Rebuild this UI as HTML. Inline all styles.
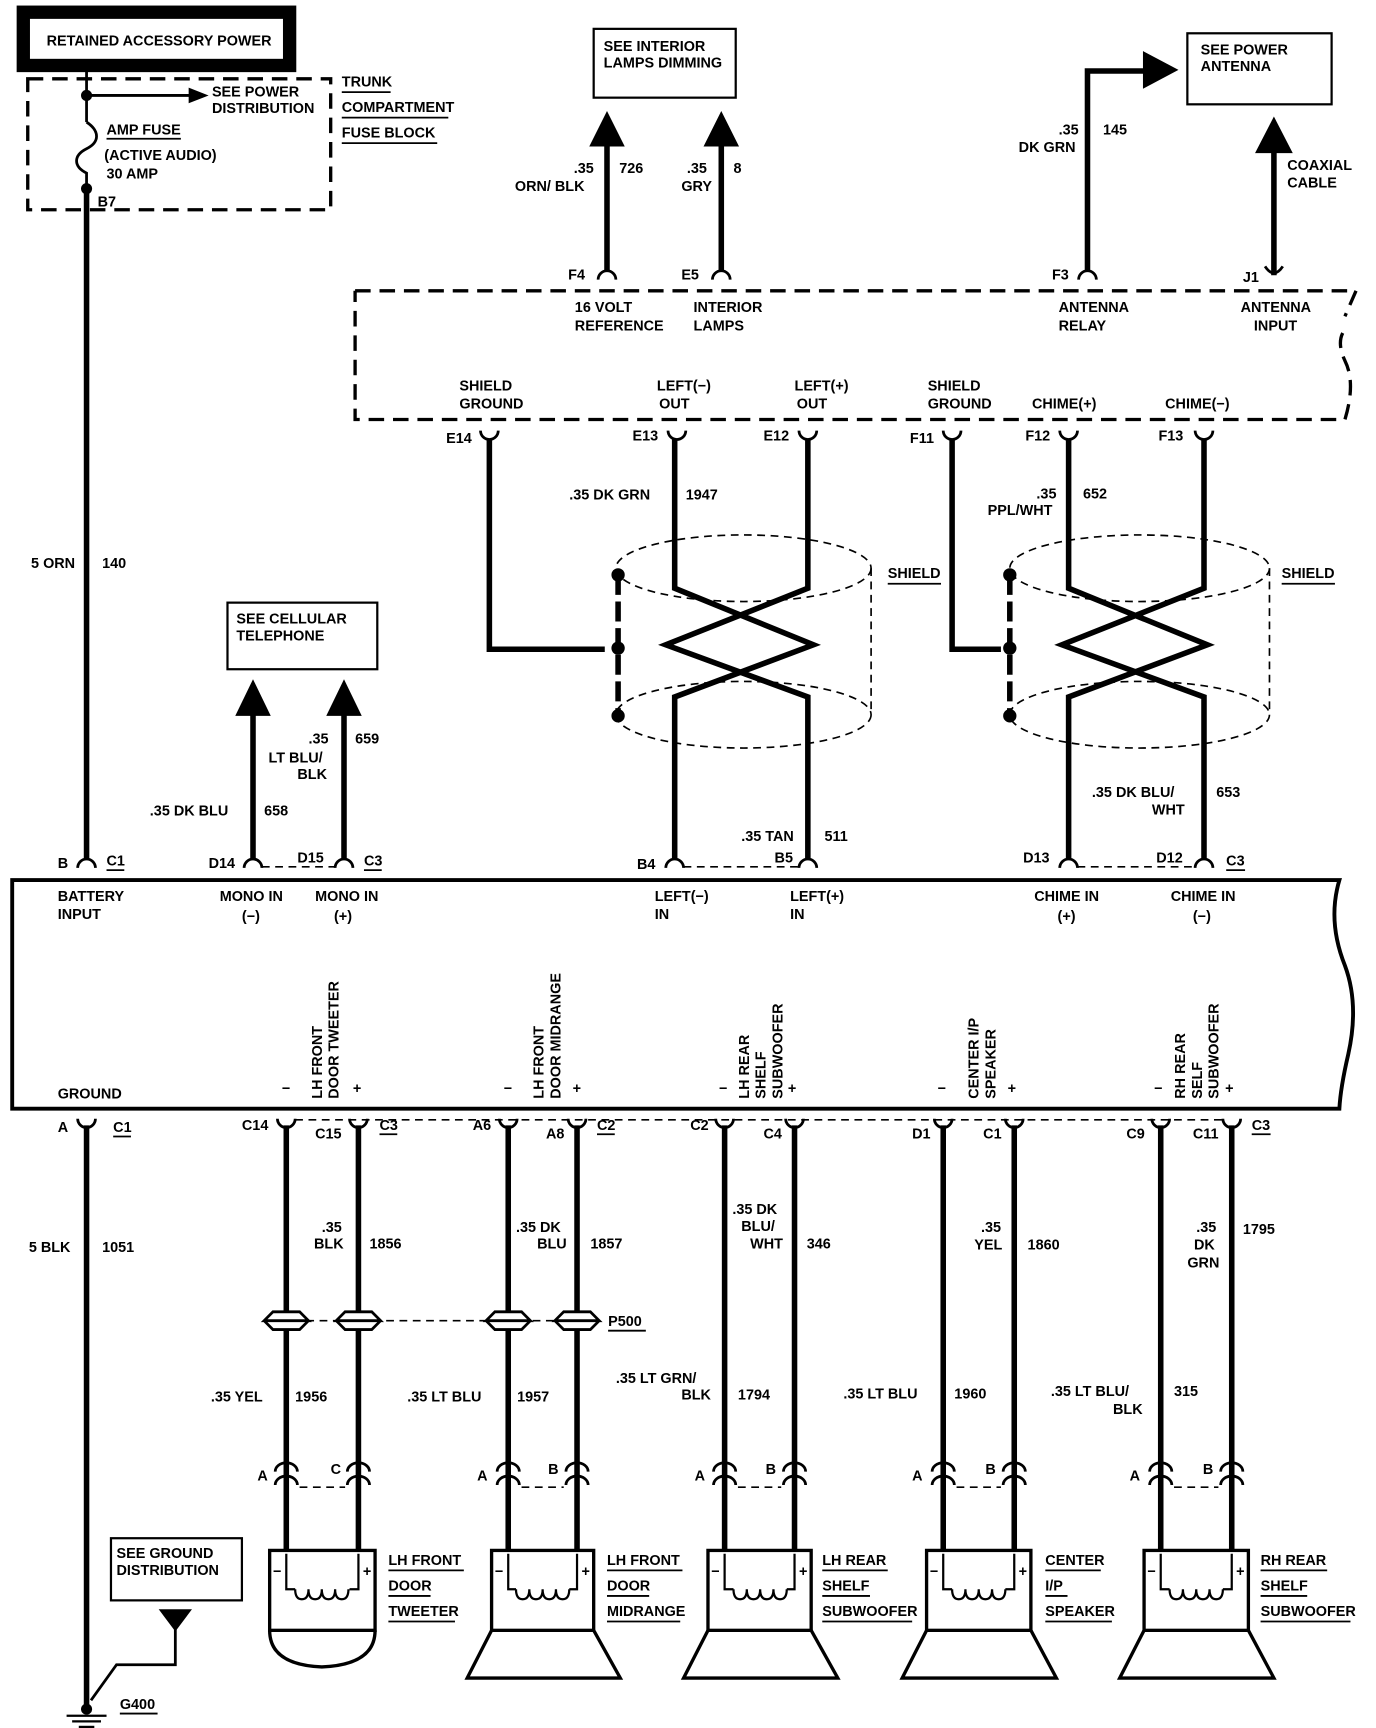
<!DOCTYPE html>
<html><head><meta charset="utf-8"><style>
html,body{margin:0;padding:0;background:#fff;}
svg{display:block;}
text{font-family:"Liberation Sans",sans-serif;font-weight:bold;font-size:13px;fill:#000;}
.w{stroke:#000;stroke-width:5;fill:none;}
.t{stroke:#000;stroke-width:2.5;fill:none;}
.d{stroke:#000;stroke-width:3;fill:none;stroke-dasharray:14 8;}
.ds{stroke:#000;stroke-width:1.5;fill:none;stroke-dasharray:7 5;}
.u{stroke:#000;stroke-width:1.6;}
</style></head><body>
<svg width="1376" height="1728" viewBox="0 0 1240 1557" preserveAspectRatio="none" xmlns="http://www.w3.org/2000/svg">
<rect x="0" y="0" width="1240" height="1557" fill="#fff"/>
<rect x="21" y="11" width="240" height="48" fill="none" stroke="#000" stroke-width="12"/>
<text x="42" y="41">RETAINED ACCESSORY POWER</text>
<rect x="25" y="71" width="273" height="118" class="d"/>
<line x1="78" y1="62" x2="78" y2="110" class="t"/>
<path d="M78 110 C90 118 90 128 78 134 C66 140 66 150 78 156 L78 170" class="t"/>
<circle cx="78" cy="86" r="5"/><circle cx="78" cy="170" r="5"/>
<line x1="78" y1="86" x2="172" y2="86" class="t"/>
<polygon points="170,79 188,86 170,93"/>
<text x="191" y="87">SEE POWER</text><text x="191" y="102">DISTRIBUTION</text>
<text x="96" y="121">AMP FUSE</text><line x1="96" y1="125" x2="163" y2="125" class="u"/>
<text x="94" y="144">(ACTIVE AUDIO)</text><text x="96" y="161">30 AMP</text>
<text x="88" y="186">B7</text>
<text x="308" y="78">TRUNK</text><line x1="308" y1="83" x2="352" y2="83" class="u"/>
<text x="308" y="101">COMPARTMENT</text><line x1="308" y1="106" x2="404" y2="106" class="u"/>
<text x="308" y="124">FUSE BLOCK</text><line x1="308" y1="129" x2="394" y2="129" class="u"/>
<line x1="78" y1="170" x2="78" y2="774" class="w"/>
<text x="28" y="512">5 ORN</text><text x="92" y="512">140</text>
<rect x="535" y="26" width="128" height="62" fill="none" stroke="#000" stroke-width="2"/>
<text x="544" y="46">SEE INTERIOR</text><text x="544" y="61">LAMPS DIMMING</text>
<line x1="547" y1="125" x2="547" y2="244" class="w"/><polygon points="531,132 547,100 563,132"/>
<line x1="650" y1="125" x2="650" y2="244" class="w"/><polygon points="634,132 650,100 666,132"/>
<text x="517" y="156">.35</text><text x="464" y="172">ORN/ BLK</text><text x="558" y="156">726</text>
<text x="619" y="156">.35</text><text x="614" y="172">GRY</text><text x="661" y="156">8</text>
<path d="M539 252 A8 8 0 0 1 555 252" class="t"/><path d="M642 252 A8 8 0 0 1 658 252" class="t"/>
<text x="512" y="252">F4</text><text x="614" y="252">E5</text>
<rect x="1070" y="30" width="130" height="64" fill="none" stroke="#000" stroke-width="2"/>
<text x="1082" y="49">SEE POWER</text><text x="1082" y="64">ANTENNA</text>
<path d="M980 244 V64 H1035" class="w"/><polygon points="1030,46 1062,63 1030,80"/>
<text x="954" y="121">.35</text><text x="918" y="137">DK GRN</text><text x="994" y="121">145</text>
<path d="M972 252 A8 8 0 0 1 988 252" class="t"/><text x="948" y="252">F3</text>
<line x1="1148" y1="130" x2="1148" y2="248" class="w"/><polygon points="1131,138 1148,105 1165,138"/>
<path d="M1140 240 Q1148 252 1156 240" class="t"/><text x="1120" y="254">J1</text>
<text x="1160" y="153">COAXIAL</text><text x="1160" y="169">CABLE</text>
<path d="M320 262 H1222 L1212 285" class="d"/>
<path d="M1210 300 Q1205 310 1212 325 Q1222 345 1212 378 H320 V262" class="d"/>
<text x="518" y="281">16 VOLT</text><text x="518" y="298">REFERENCE</text>
<text x="625" y="281">INTERIOR</text><text x="625" y="298">LAMPS</text>
<text x="954" y="281">ANTENNA</text><text x="954" y="298">RELAY</text>
<text x="1118" y="281">ANTENNA</text><text x="1130" y="298">INPUT</text>
<text x="414" y="352">SHIELD</text><text x="414" y="368">GROUND</text>
<text x="592" y="352">LEFT(−)</text><text x="594" y="368">OUT</text>
<text x="716" y="352">LEFT(+)</text><text x="718" y="368">OUT</text>
<text x="836" y="352">SHIELD</text><text x="836" y="368">GROUND</text>
<text x="930" y="368">CHIME(+)</text><text x="1050" y="368">CHIME(−)</text>
<g class="t">
<path d="M433 388 A8 8 0 0 0 449 388"/><path d="M602 388 A8 8 0 0 0 618 388"/><path d="M720 388 A8 8 0 0 0 736 388"/>
<path d="M850 388 A8 8 0 0 0 866 388"/><path d="M955 388 A8 8 0 0 0 971 388"/><path d="M1077 388 A8 8 0 0 0 1093 388"/>
</g>
<text x="402" y="399">E14</text><text x="570" y="397">E13</text><text x="688" y="397">E12</text>
<text x="820" y="399">F11</text><text x="924" y="397">F12</text><text x="1044" y="397">F13</text>
<path d="M441 396 V585 H545" class="w"/>
<path d="M608 396 V530 L733 581 L608 628 V774" class="w"/>
<path d="M728 396 V530 L600 581 L728 628 V774" class="w"/>
<ellipse cx="670" cy="512" rx="115" ry="30" class="ds"/>
<ellipse cx="670" cy="644" rx="115" ry="30" class="ds"/>
<line x1="785" y1="512" x2="785" y2="644" class="ds"/>
<line x1="557" y1="518" x2="557" y2="642" stroke="#000" stroke-width="5" stroke-dasharray="18 6"/>
<circle cx="557" cy="518" r="6"/><circle cx="557" cy="584" r="6"/><circle cx="557" cy="645" r="6"/>
<text x="800" y="521">SHIELD</text><line x1="800" y1="526" x2="848" y2="526" class="u"/>
<text x="513" y="450">.35 DK GRN</text><text x="618" y="450">1947</text>
<text x="668" y="758">.35 TAN</text><text x="743" y="758">511</text>
<path d="M858 396 V585 H902" class="w"/>
<path d="M963 396 V530 L1088 581 L963 628 V774" class="w"/>
<path d="M1085 396 V530 L957 581 L1085 628 V774" class="w"/>
<ellipse cx="1027" cy="512" rx="117" ry="30" class="ds"/>
<ellipse cx="1027" cy="644" rx="117" ry="30" class="ds"/>
<line x1="1144" y1="512" x2="1144" y2="644" class="ds"/>
<line x1="910" y1="518" x2="910" y2="642" stroke="#000" stroke-width="5" stroke-dasharray="18 6"/>
<circle cx="910" cy="518" r="6"/><circle cx="910" cy="584" r="6"/><circle cx="910" cy="645" r="6"/>
<text x="1155" y="521">SHIELD</text><line x1="1155" y1="526" x2="1203" y2="526" class="u"/>
<text x="934" y="449">.35</text><text x="890" y="464">PPL/WHT</text><text x="976" y="449">652</text>
<text x="984" y="718">.35 DK BLU/</text><text x="1038" y="734">WHT</text><text x="1096" y="718">653</text>
<rect x="205" y="543" width="135" height="60" fill="none" stroke="#000" stroke-width="2"/>
<text x="213" y="562">SEE CELLULAR</text><text x="213" y="577">TELEPHONE</text>
<line x1="228" y1="640" x2="228" y2="774" class="w"/><polygon points="212,645 228,612 244,645"/>
<line x1="310" y1="640" x2="310" y2="774" class="w"/><polygon points="294,645 310,612 326,645"/>
<text x="135" y="735">.35 DK BLU</text><text x="238" y="735">658</text>
<text x="278" y="670">.35</text><text x="242" y="687">LT BLU/</text><text x="268" y="702">BLK</text><text x="320" y="670">659</text>
<g class="t">
<path d="M70 782 A8 8 0 0 1 86 782"/><path d="M220 782 A8 8 0 0 1 236 782"/><path d="M302 782 A8 8 0 0 1 318 782"/>
<path d="M600 782 A8 8 0 0 1 616 782"/><path d="M720 782 A8 8 0 0 1 736 782"/>
<path d="M955 782 A8 8 0 0 1 971 782"/><path d="M1077 782 A8 8 0 0 1 1093 782"/>
</g>
<line x1="236" y1="781" x2="302" y2="781" class="ds"/>
<line x1="616" y1="781" x2="720" y2="781" class="ds"/>
<line x1="971" y1="781" x2="1077" y2="781" class="ds"/>
<text x="52" y="782">B</text><text x="96" y="780">C1</text><line x1="96" y1="784" x2="112" y2="784" class="u"/>
<text x="188" y="782">D14</text><text x="268" y="777">D15</text><text x="328" y="780">C3</text><line x1="328" y1="784" x2="344" y2="784" class="u"/>
<text x="574" y="783">B4</text><text x="698" y="777">B5</text>
<text x="922" y="777">D13</text><text x="1042" y="777">D12</text><text x="1105" y="780">C3</text><line x1="1105" y1="784" x2="1122" y2="784" class="u"/>
<path d="M11 793 H1207 Q1196 830 1212 870 Q1225 905 1215 950 Q1208 980 1207 999 H11 Z" fill="none" stroke="#000" stroke-width="3.5"/>
<text x="52" y="812">BATTERY</text><text x="52" y="828">INPUT</text>
<text x="198" y="812">MONO IN</text><text x="218" y="830">(−)</text>
<text x="284" y="812">MONO IN</text><text x="301" y="830">(+)</text>
<text x="590" y="812">LEFT(−)</text><text x="590" y="828">IN</text>
<text x="712" y="812">LEFT(+)</text><text x="712" y="828">IN</text>
<text x="932" y="812">CHIME IN</text><text x="953" y="830">(+)</text>
<text x="1055" y="812">CHIME IN</text><text x="1075" y="830">(−)</text>
<text x="52" y="990">GROUND</text>
<g font-size="12">
<text transform="translate(290,990) rotate(-90)">LH FRONT</text><text transform="translate(305,990) rotate(-90)">DOOR TWEETER</text>
<text transform="translate(490,990) rotate(-90)">LH FRONT</text><text transform="translate(505,990) rotate(-90)">DOOR MIDRANGE</text>
<text transform="translate(675,990) rotate(-90)">LH REAR</text><text transform="translate(690,990) rotate(-90)">SHELF</text><text transform="translate(705,990) rotate(-90)">SUBWOOFER</text>
<text transform="translate(882,990) rotate(-90)">CENTER I/P</text><text transform="translate(897,990) rotate(-90)">SPEAKER</text>
<text transform="translate(1068,990) rotate(-90)">RH REAR</text><text transform="translate(1083,990) rotate(-90)">SELF</text><text transform="translate(1098,990) rotate(-90)">SUBWOOFER</text>
</g>
<text x="254" y="985">−</text><text x="318" y="985">+</text>
<text x="454" y="985">−</text><text x="516" y="985">+</text>
<text x="648" y="985">−</text><text x="710" y="985">+</text>
<text x="845" y="985">−</text><text x="908" y="985">+</text>
<text x="1040" y="985">−</text><text x="1104" y="985">+</text>
<g class="t">
<path d="M70 1008 A8 8 0 0 0 86 1008"/>
<path d="M250 1008 A8 8 0 0 0 266 1008"/><path d="M315 1008 A8 8 0 0 0 331 1008"/>
<path d="M450 1008 A8 8 0 0 0 466 1008"/><path d="M512 1008 A8 8 0 0 0 528 1008"/>
<path d="M645 1008 A8 8 0 0 0 661 1008"/><path d="M708 1008 A8 8 0 0 0 724 1008"/>
<path d="M842 1008 A8 8 0 0 0 858 1008"/><path d="M906 1008 A8 8 0 0 0 922 1008"/>
<path d="M1038 1008 A8 8 0 0 0 1054 1008"/><path d="M1102 1008 A8 8 0 0 0 1118 1008"/>
</g>
<line x1="266" y1="1009" x2="1102" y2="1009" class="ds"/>
<text x="52" y="1020">A</text><text x="102" y="1020">C1</text><line x1="102" y1="1024" x2="118" y2="1024" class="u"/>
<text x="218" y="1018">C14</text><text x="284" y="1026">C15</text><text x="342" y="1018">C3</text><line x1="342" y1="1022" x2="358" y2="1022" class="u"/>
<text x="426" y="1018">A6</text><text x="492" y="1026">A8</text><text x="538" y="1018">C2</text><line x1="538" y1="1022" x2="554" y2="1022" class="u"/>
<text x="622" y="1018">C2</text><text x="688" y="1026">C4</text>
<text x="822" y="1026">D1</text><text x="886" y="1026">C1</text>
<text x="1015" y="1026">C9</text><text x="1075" y="1026">C11</text><text x="1128" y="1018">C3</text><line x1="1128" y1="1022" x2="1145" y2="1022" class="u"/>
<line x1="78" y1="1014" x2="78" y2="1540" class="w"/>
<text x="26" y="1128">5 BLK</text><text x="92" y="1128">1051</text>
<rect x="100" y="1386" width="118" height="56" fill="none" stroke="#000" stroke-width="2"/>
<text x="105" y="1404">SEE GROUND</text><text x="105" y="1419">DISTRIBUTION</text>
<polygon points="143,1450 173,1450 158,1470"/>
<path d="M158 1465 V1500 H105 L82 1532" class="t" stroke-width="3"/>
<circle cx="78" cy="1540" r="5"/>
<line x1="60" y1="1546" x2="96" y2="1546" stroke="#000" stroke-width="2"/>
<line x1="65" y1="1551" x2="91" y2="1551" stroke="#000" stroke-width="2"/>
<line x1="71" y1="1556" x2="85" y2="1556" stroke="#000" stroke-width="2"/>
<text x="108" y="1540">G400</text><line x1="108" y1="1544" x2="142" y2="1544" class="u"/>
<g class="w">
<line x1="258" y1="1014" x2="258" y2="1396"/><line x1="323" y1="1014" x2="323" y2="1396"/>
<line x1="458" y1="1014" x2="458" y2="1396"/><line x1="520" y1="1014" x2="520" y2="1396"/>
<line x1="653" y1="1014" x2="653" y2="1396"/><line x1="716" y1="1014" x2="716" y2="1396"/>
<line x1="850" y1="1014" x2="850" y2="1396"/><line x1="914" y1="1014" x2="914" y2="1396"/>
<line x1="1046" y1="1014" x2="1046" y2="1396"/><line x1="1110" y1="1014" x2="1110" y2="1396"/>
</g>
<line x1="240" y1="1190" x2="540" y2="1190" class="ds"/>
<g fill="#fff" stroke="#000" stroke-width="2.5">
<path d="M238 1190 L246 1182 H270 L278 1190 Z M238 1190 L246 1198 H270 L278 1190"/>
<path d="M303 1190 L311 1182 H335 L343 1190 Z M303 1190 L311 1198 H335 L343 1190"/>
<path d="M438 1190 L446 1182 H470 L478 1190 Z M438 1190 L446 1198 H470 L478 1190"/>
<path d="M500 1190 L508 1182 H532 L540 1190 Z M500 1190 L508 1198 H532 L540 1190"/>
</g>
<text x="548" y="1195">P500</text><line x1="548" y1="1199" x2="582" y2="1199" class="u"/>
<text x="290" y="1110">.35</text><text x="283" y="1125">BLK</text><text x="333" y="1125">1856</text>
<text x="465" y="1110">.35 DK</text><text x="484" y="1125">BLU</text><text x="532" y="1125">1857</text>
<text x="660" y="1094">.35 DK</text><text x="668" y="1109">BLU/</text><text x="676" y="1125">WHT</text><text x="727" y="1125">346</text>
<text x="884" y="1110">.35</text><text x="878" y="1126">YEL</text><text x="926" y="1126">1860</text>
<text x="1078" y="1110">.35</text><text x="1076" y="1126">DK</text><text x="1070" y="1142">GRN</text><text x="1120" y="1112">1795</text>
<text x="190" y="1263">.35 YEL</text><text x="266" y="1263">1956</text>
<text x="367" y="1263">.35 LT BLU</text><text x="466" y="1263">1957</text>
<text x="555" y="1246">.35 LT GRN/</text><text x="614" y="1261">BLK</text><text x="665" y="1261">1794</text>
<text x="760" y="1260">.35 LT BLU</text><text x="860" y="1260">1960</text>
<text x="947" y="1258">.35 LT BLU/</text><text x="1003" y="1274">BLK</text><text x="1058" y="1258">315</text>
<g class="t" stroke-width="3">
<path d="M248 1326 A10 8 0 0 1 268 1326"/><path d="M248 1338 A10 8 0 0 1 268 1338"/>
<path d="M313 1326 A10 8 0 0 1 333 1326"/><path d="M313 1338 A10 8 0 0 1 333 1338"/>
<path d="M448 1326 A10 8 0 0 1 468 1326"/><path d="M448 1338 A10 8 0 0 1 468 1338"/>
<path d="M510 1326 A10 8 0 0 1 530 1326"/><path d="M510 1338 A10 8 0 0 1 530 1338"/>
<path d="M643 1326 A10 8 0 0 1 663 1326"/><path d="M643 1338 A10 8 0 0 1 663 1338"/>
<path d="M706 1326 A10 8 0 0 1 726 1326"/><path d="M706 1338 A10 8 0 0 1 726 1338"/>
<path d="M840 1326 A10 8 0 0 1 860 1326"/><path d="M840 1338 A10 8 0 0 1 860 1338"/>
<path d="M904 1326 A10 8 0 0 1 924 1326"/><path d="M904 1338 A10 8 0 0 1 924 1338"/>
<path d="M1036 1326 A10 8 0 0 1 1056 1326"/><path d="M1036 1338 A10 8 0 0 1 1056 1338"/>
<path d="M1100 1326 A10 8 0 0 1 1120 1326"/><path d="M1100 1338 A10 8 0 0 1 1120 1338"/>
</g>
<g class="ds">
<line x1="270" y1="1340" x2="311" y2="1340"/><line x1="470" y1="1340" x2="508" y2="1340"/>
<line x1="665" y1="1340" x2="704" y2="1340"/><line x1="862" y1="1340" x2="902" y2="1340"/>
<line x1="1058" y1="1340" x2="1098" y2="1340"/>
</g>
<text x="232" y="1334">A</text><text x="298" y="1328">C</text>
<text x="430" y="1334">A</text><text x="494" y="1328">B</text>
<text x="626" y="1334">A</text><text x="690" y="1328">B</text>
<text x="822" y="1334">A</text><text x="888" y="1328">B</text>
<text x="1018" y="1334">A</text><text x="1084" y="1328">B</text>
<g fill="none" stroke="#000" stroke-width="3">
<rect x="243" y="1397" width="95" height="72"/>
<path d="M243 1469 Q243 1500 290 1502 Q338 1500 338 1469"/>
<rect x="443" y="1397" width="92" height="72"/><path d="M443 1469 L421 1512 H559 L535 1469"/>
<rect x="638" y="1397" width="93" height="72"/><path d="M638 1469 L616 1512 H755 L731 1469"/>
<rect x="835" y="1397" width="94" height="72"/><path d="M835 1469 L813 1512 H952 L929 1469"/>
<rect x="1031" y="1397" width="94" height="72"/><path d="M1031 1469 L1009 1512 H1148 L1125 1469"/>
</g>
<g fill="none" stroke="#000" stroke-width="2">
<path d="M258 1400 V1432 H266 M315 1432 H323 V1400"/><path d="M266 1432 q0 9 6 9 q6 0 6 -9 q0 9 6 9 q6 0 6 -9 q0 9 6 9 q6 0 6 -9 q0 9 6 9 q6 0 6 -9"/>
<path d="M458 1400 V1432 H465 M513 1432 H520 V1400"/><path d="M465 1432 q0 9 6 9 q6 0 6 -9 q0 9 6 9 q6 0 6 -9 q0 9 6 9 q6 0 6 -9 q0 9 6 9 q6 0 6 -9"/>
<path d="M653 1400 V1432 H661 M709 1432 H716 V1400"/><path d="M661 1432 q0 9 6 9 q6 0 6 -9 q0 9 6 9 q6 0 6 -9 q0 9 6 9 q6 0 6 -9 q0 9 6 9 q6 0 6 -9"/>
<path d="M850 1400 V1432 H858 M906 1432 H914 V1400"/><path d="M858 1432 q0 9 6 9 q6 0 6 -9 q0 9 6 9 q6 0 6 -9 q0 9 6 9 q6 0 6 -9 q0 9 6 9 q6 0 6 -9"/>
<path d="M1046 1400 V1432 H1054 M1102 1432 H1110 V1400"/><path d="M1054 1432 q0 9 6 9 q6 0 6 -9 q0 9 6 9 q6 0 6 -9 q0 9 6 9 q6 0 6 -9 q0 9 6 9 q6 0 6 -9"/>
</g>
<g font-size="12">
<text x="246" y="1420">−</text><text x="327" y="1420">+</text>
<text x="446" y="1420">−</text><text x="524" y="1420">+</text>
<text x="641" y="1420">−</text><text x="720" y="1420">+</text>
<text x="838" y="1420">−</text><text x="918" y="1420">+</text>
<text x="1034" y="1420">−</text><text x="1114" y="1420">+</text>
</g>
<g>
<text x="350" y="1410">LH FRONT</text><line x1="350" y1="1415" x2="418" y2="1415" class="u"/>
<text x="350" y="1433">DOOR</text><line x1="350" y1="1438" x2="388" y2="1438" class="u"/>
<text x="350" y="1456">TWEETER</text><line x1="350" y1="1461" x2="410" y2="1461" class="u"/>
<text x="547" y="1410">LH FRONT</text><line x1="547" y1="1415" x2="615" y2="1415" class="u"/>
<text x="547" y="1433">DOOR</text><line x1="547" y1="1438" x2="585" y2="1438" class="u"/>
<text x="547" y="1456">MIDRANGE</text><line x1="547" y1="1461" x2="613" y2="1461" class="u"/>
<text x="741" y="1410">LH REAR</text><line x1="741" y1="1415" x2="800" y2="1415" class="u"/>
<text x="741" y="1433">SHELF</text><line x1="741" y1="1438" x2="784" y2="1438" class="u"/>
<text x="741" y="1456">SUBWOOFER</text><line x1="741" y1="1461" x2="822" y2="1461" class="u"/>
<text x="942" y="1410">CENTER</text><line x1="942" y1="1415" x2="992" y2="1415" class="u"/>
<text x="942" y="1433">I/P</text><line x1="942" y1="1438" x2="962" y2="1438" class="u"/>
<text x="942" y="1456">SPEAKER</text><line x1="942" y1="1461" x2="1002" y2="1461" class="u"/>
<text x="1136" y="1410">RH REAR</text><line x1="1136" y1="1415" x2="1196" y2="1415" class="u"/>
<text x="1136" y="1433">SHELF</text><line x1="1136" y1="1438" x2="1178" y2="1438" class="u"/>
<text x="1136" y="1456">SUBWOOFER</text><line x1="1136" y1="1461" x2="1217" y2="1461" class="u"/>
</g>
</svg>
</body></html>
